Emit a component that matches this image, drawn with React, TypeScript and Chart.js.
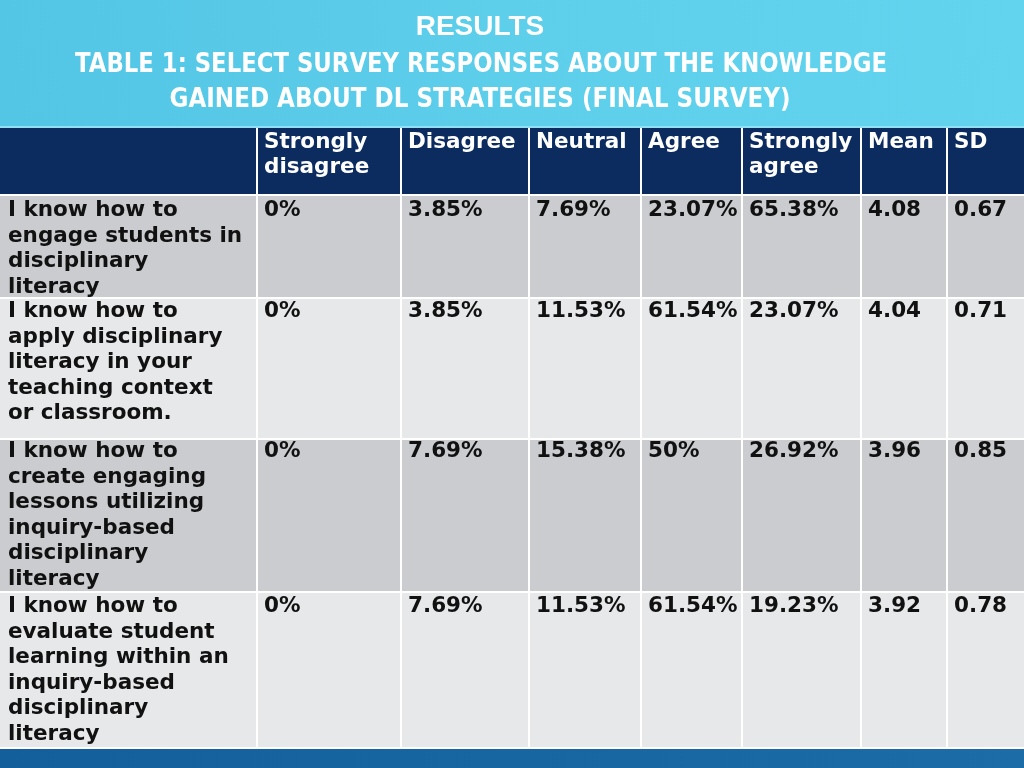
import React, { useEffect, useRef } from "react";
import { Chart, registerables } from "chart.js";

Chart.register(...registerables);

// ---------- data ----------
const titleLines = [
  "RESULTS",
  "TABLE 1: SELECT SURVEY RESPONSES ABOUT THE KNOWLEDGE",
  "GAINED ABOUT DL STRATEGIES (FINAL SURVEY)",
];
const columnHeaders = [
  [""],
  ["Strongly", "disagree"],
  ["Disagree"],
  ["Neutral"],
  ["Agree"],
  ["Strongly", "agree"],
  ["Mean"],
  ["SD"],
];
const statements = [
  ["I know how to", "engage students in", "disciplinary", "literacy"],
  ["I know how to", "apply disciplinary", "literacy in your", "teaching context", "or classroom."],
  ["I know how to", "create engaging", "lessons utilizing", "inquiry-based", "disciplinary", "literacy"],
  ["I know how to", "evaluate student", "learning within an", "inquiry-based", "disciplinary", "literacy"],
];
const stronglyDisagree = ["0%", "0%", "0%", "0%"];
const disagree = ["3.85%", "3.85%", "7.69%", "7.69%"];
const neutral = ["7.69%", "11.53%", "15.38%", "11.53%"];
const agree = ["23.07%", "61.54%", "50%", "61.54%"];
const stronglyAgree = ["65.38%", "23.07%", "26.92%", "19.23%"];
const means = ["4.08", "4.04", "3.96", "3.92"];
const sds = ["0.67", "0.71", "0.85", "0.78"];

// ---------- layout (scale units) ----------
const colEdges = [0, 257, 401, 529, 641, 742, 861, 947, 1024];
const rowEdges = [127, 195, 298, 439, 592, 748];
const W = 1024;
const H = 768;

const BODY_FONT = "bold 21.5px 'DejaVu Sans'";
const LINE_H = 25.6;

const tablePlugin = {
  id: "tablePlugin",
  beforeDraw(chart: any) {
    const { ctx, scales } = chart;
    const xs = scales.x;
    const ys = scales.y;
    const px = (v: number) => xs.getPixelForValue(v);
    const py = (v: number) => ys.getPixelForValue(v);
    ctx.save();

    // title band
    const g = ctx.createLinearGradient(px(0), py(127), px(W), py(0));
    g.addColorStop(0, "#53c5e5");
    g.addColorStop(0.5, "#5dcfeb");
    g.addColorStop(1, "#63d4ee");
    ctx.fillStyle = g;
    ctx.fillRect(px(0), py(0), px(W) - px(0), py(127) - py(0));

    // bottom band
    const g2 = ctx.createLinearGradient(px(0), 0, px(W), 0);
    g2.addColorStop(0, "#135f9c");
    g2.addColorStop(1, "#1b6ca7");
    ctx.fillStyle = g2;
    ctx.fillRect(px(0), py(748), px(W) - px(0), py(H) - py(748));

    // title text
    ctx.fillStyle = "#ffffff";
    ctx.textAlign = "center";
    ctx.textBaseline = "alphabetic";
    ctx.font = "bold 28px 'Liberation Sans'";
    ctx.fillText(titleLines[0], px(480), py(35));
    ctx.font = "bold 27px 'DejaVu Sans'";
    ctx.fillText(titleLines[1], px(481), py(72), px(887) - px(75));
    ctx.fillText(titleLines[2], px(480), py(107), px(791) - px(170));

    const columns = [
      statements.map((s) => s),
      stronglyDisagree.map((v) => [v]),
      disagree.map((v) => [v]),
      neutral.map((v) => [v]),
      agree.map((v) => [v]),
      stronglyAgree.map((v) => [v]),
      means.map((v) => [v]),
      sds.map((v) => [v]),
    ];

    // header row
    ctx.fillStyle = "#0c2c60";
    ctx.fillRect(px(0), py(rowEdges[0]), px(W) - px(0), py(rowEdges[1]) - py(rowEdges[0]));

    // body rows
    const dark = "#cacccf";
    const light = "#e7e8ea";
    for (let r = 0; r < statements.length; r++) {
      ctx.fillStyle = r % 2 === 0 ? dark : light;
      ctx.fillRect(px(0), py(rowEdges[r + 1]), px(W) - px(0), py(rowEdges[r + 2]) - py(rowEdges[r + 1]));
    }

    // grid lines
    ctx.strokeStyle = "#ffffff";
    ctx.lineWidth = 2;
    ctx.beginPath();
    for (let i = 0; i < rowEdges.length; i++) {
      ctx.moveTo(px(0), py(rowEdges[i]));
      ctx.lineTo(px(W), py(rowEdges[i]));
    }
    for (let i = 1; i < colEdges.length - 1; i++) {
      ctx.moveTo(px(colEdges[i]), py(rowEdges[0]));
      ctx.lineTo(px(colEdges[i]), py(rowEdges[rowEdges.length - 1]));
    }
    ctx.stroke();
    ctx.strokeStyle = "#8fe0f3";
    ctx.lineWidth = 2;
    ctx.beginPath();
    ctx.moveTo(px(0), py(rowEdges[0]));
    ctx.lineTo(px(W), py(rowEdges[0]));
    ctx.stroke();

    // text
    ctx.textAlign = "left";
    ctx.font = BODY_FONT;
    // header
    ctx.fillStyle = "#ffffff";
    columnHeaders.forEach((lines, c) => {
      lines.forEach((t, i) => {
        ctx.fillText(t, px(colEdges[c] + 7), py(rowEdges[0] + 21 + i * 24.5), px(colEdges[c + 1]) - px(colEdges[c]) - 10);
      });
    });
    // body
    ctx.fillStyle = "#111111";
    const rowOffsets = [21, 19, 18, 20];
    columns.forEach((col, c) => {
      col.forEach((lines, r) => {
        lines.forEach((t, i) => {
          ctx.fillText(
            t,
            px(colEdges[c] + (c === 0 ? 8 : 7)),
            py(rowEdges[r + 1] + rowOffsets[r] + i * LINE_H),
            px(colEdges[c + 1]) - px(colEdges[c]) - 10
          );
        });
      });
    });
    ctx.restore();
  },
};

export default function App() {
  const ref = useRef<HTMLCanvasElement | null>(null);
  useEffect(() => {
    document.body.style.margin = "0";
    if (!ref.current) return;
    const chart = new Chart(ref.current, {
      type: "scatter",
      data: { datasets: [{ data: [], pointRadius: 0 }] },
      options: {
        animation: false,
        responsive: false,
        devicePixelRatio: 1,
        layout: { padding: 0 },
        plugins: { legend: { display: false }, tooltip: { enabled: false }, title: { display: false } },
        scales: {
          x: { type: "linear", min: 0, max: W, display: false },
          y: { type: "linear", min: 0, max: H, reverse: true, display: false },
        },
      },
      plugins: [tablePlugin],
    });
    return () => chart.destroy();
  }, []);
  return (
    <div style={{ position: "fixed", left: 0, top: 0, width: W, height: H }}>
      <canvas ref={ref} width={W} height={H} style={{ display: "block", width: W, height: H }} />
    </div>
  );
}
